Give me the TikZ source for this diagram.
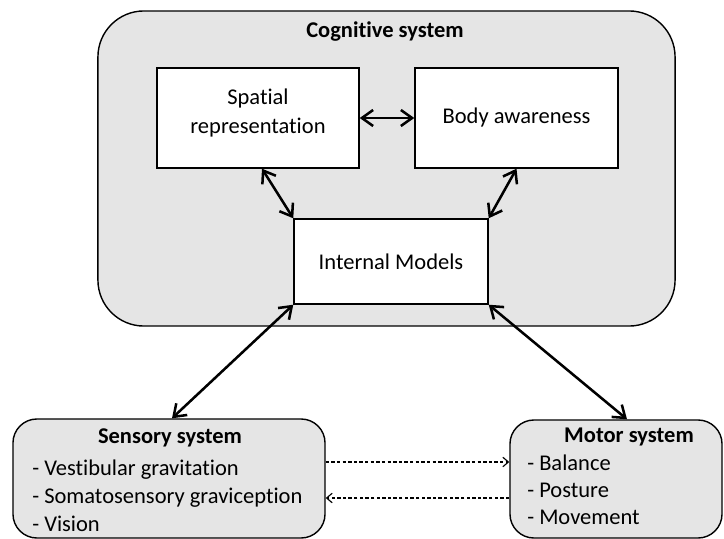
\documentclass[tikz,border=0pt]{standalone}
\usepackage{fontspec}
\setmainfont{Carlito}[Ligatures=NoCommon]
\usetikzlibrary{arrows.meta}
\usetikzlibrary{positioning}
\definecolor{boxgray}{gray}{0.9}
\tikzset{box/.style = {draw, line width=1pt, fill=white, inner sep=0pt},
         sysbox/.style = {draw, line width=1pt, fill=boxgray, rounded corners=0.6cm, inner sep=0pt},
         bigarrow/.style = {{Straight Barb[length=2.8mm,width=4mm]}-{Straight Barb[length=2.8mm,width=4mm]}, line width=1.8pt},
         dasharrow/.style = {-{Straight Barb[length=1.4mm,width=2.4mm]}, line width=0.8pt, dash pattern=on 2.4pt off 1.6pt},
         list/.style = {anchor=west, align=left, inner sep=0pt}}

\begin{document}
\begin{tikzpicture}[x=0.025cm, y=-0.025cm, font=\fontsize{16}{20}\selectfont]
      \useasboundingbox (0, 0) rectangle (724, 539);
      \node [sysbox, rounded corners=1.15cm, minimum width=14.425cm, minimum height=7.875cm] (cog) at (386.5, 168.5) {};
      \node [font=\fontsize{16}{20}\selectfont\bfseries] (cogt) at (385, 32) {Cognitive system};
      \node [box, minimum width=5.05cm, minimum height=2.5cm] (spat) at (258, 118) {};
      \node [align=center] (spatt) at (258, 113) {Spatial\\representation};
      \node [box, minimum width=5.075cm, minimum height=2.5cm] (body) at (516.5, 118) {Body awareness};
      \node [box, minimum width=4.85cm, minimum height=2.125cm] (int) at (391, 261.5) {Internal Models};
      \node [sysbox, minimum width=7.8cm, minimum height=2.975cm] (sens) at (169, 478.5) {};
      \node [font=\fontsize{16}{20}\selectfont\bfseries] (senst) at (170, 438) {Sensory system};
      \node [list] (sensl) at (32, 496) {- Vestibular gravitation\\- Somatosensory graviception\\- Vision};
      \node [sysbox, minimum width=5.3cm, minimum height=2.95cm] (mot) at (616, 479) {};
      \node [font=\fontsize{16}{20}\selectfont\bfseries] (mott) at (629, 437) {Motor system};
      \node [list, font=\fontsize{16}{19.2}\selectfont] (motl) at (527, 490) {- Balance\\- Posture\\- Movement};
      \draw [bigarrow] (spat.east) -- (body.west);
      \draw [bigarrow] ([xshift=0.1cm]spat.south) -- (int.north west);
      \draw [bigarrow] (body.south) -- (int.north east);
      \draw [bigarrow] (int.south west) -- ([xshift=0.075cm]sens.north);
      \draw [bigarrow] (int.south east) -- ([xshift=0.275cm]mot.north);
      \draw [dasharrow] (sens.east |- 0, 462) -- (mot.west |- 0, 462);
      \draw [dasharrow] (mot.west |- 0, 498) -- (sens.east |- 0, 498);
    \end{tikzpicture}
\end{document}
